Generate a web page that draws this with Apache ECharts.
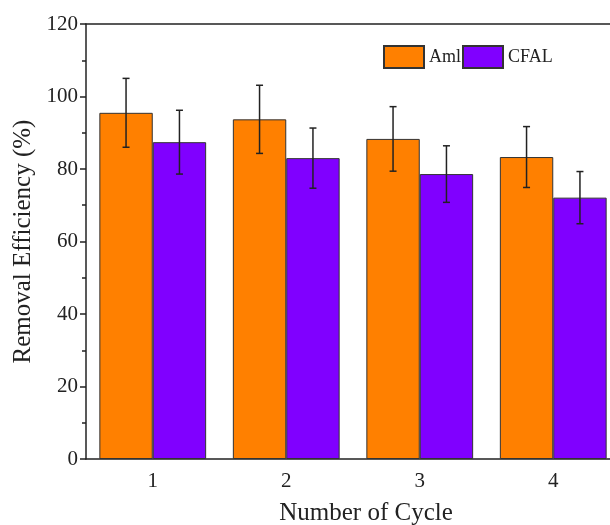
<!DOCTYPE html>
<html>
<head>
<meta charset="utf-8">
<script src="https://cdn.jsdelivr.net/npm/echarts@6/dist/echarts.min.js"></script>
<style>
  html, body { margin: 0; padding: 0; background: #fff; }
  #main { width: 610px; height: 525px; }
</style>
</head>
<body>
<div id="main"></div>
<script>
// cycles and removal efficiency (%)
var cycles = ['1', '2', '3', '4'];
var amlMean = [95.5, 93.7, 88.3, 83.3];
var amlErr = [9.5, 9.4, 8.9, 8.4];
var cfalMean = [87.4, 83.0, 78.6, 72.1];
var cfalErr = [8.8, 8.3, 7.8, 7.2];
var yTicks = [0, 20, 40, 60, 80, 100, 120];

var font = '"Liberation Serif", "Times New Roman", serif';
var chart = echarts.init(document.getElementById('main'));

function errData(mean, err) {
  var out = [];
  for (var i = 0; i < mean.length; i++) {
    out.push([i, mean[i] - err[i], mean[i] + err[i]]);
  }
  return out;
}

// draws error bar, shift is fraction of category width
function errRender(shift) {
  return function (params, api) {
    var x = api.value(0);
    var lo = api.coord([x, api.value(1)]);
    var hi = api.coord([x, api.value(2)]);
    var bw = api.size([1, 0])[0];
    var cx = lo[0] + bw * shift;
    var cap = 3.5;
    var st = { stroke: '#222', lineWidth: 1.5 };
    return {
      type: 'group',
      children: [
        { type: 'line', shape: { x1: cx, y1: lo[1], x2: cx, y2: hi[1] }, style: st },
        { type: 'line', shape: { x1: cx - cap, y1: lo[1], x2: cx + cap, y2: lo[1] }, style: st },
        { type: 'line', shape: { x1: cx - cap, y1: hi[1], x2: cx + cap, y2: hi[1] }, style: st }
      ]
    };
  };
}

var option = {
  animation: false,
  grid: { left: 86, width: 534, top: 24, bottom: 66, outerBoundsMode: 'none', containLabel: false },
  legend: {
    data: ['Aml', 'CFAL'],
    left: 378,
    top: 40,
    icon: 'rect',
    itemWidth: 40,
    itemHeight: 22,
    itemGap: 1,
    textStyle: { fontFamily: font, fontSize: 18, color: '#222' }
  },
  xAxis: [
    {
      type: 'category',
      data: cycles,
      name: 'Number of Cycle',
      nameLocation: 'middle',
      nameGap: 42,
      nameTextStyle: { fontFamily: font, fontSize: 25, color: '#222', padding: [0, 0, 0, 26] },
      axisLine: { lineStyle: { color: '#222', width: 1.5 } },
      axisTick: { alignWithLabel: true, length: 6, lineStyle: { color: '#222', width: 1.5 } },
      axisLabel: { fontFamily: font, fontSize: 21, color: '#222', margin: 12 }
    },
    {
      type: 'category',
      data: cycles,
      position: 'bottom',
      axisLine: { show: false },
      axisTick: { length: 4, lineStyle: { color: '#222', width: 1.5 } },
      axisLabel: { show: false }
    },
    {
      type: 'category',
      data: cycles,
      position: 'top',
      axisLine: { lineStyle: { color: '#222', width: 1.5 } },
      axisTick: { show: false },
      axisLabel: { show: false }
    }
  ],
  yAxis: {
    type: 'value',
    min: yTicks[0],
    max: yTicks[yTicks.length - 1],
    interval: 20,
    name: 'Removal Efficiency (%)',
    nameLocation: 'middle',
    nameGap: 44,
    nameTextStyle: { fontFamily: font, fontSize: 25, color: '#222' },
    splitLine: { show: false },
    axisLine: { show: true, lineStyle: { color: '#222', width: 1.5 } },
    axisTick: { show: true, length: 6, lineStyle: { color: '#222', width: 1.5 } },
    minorTick: { show: true, splitNumber: 2, length: 4, lineStyle: { color: '#222', width: 1.5 } },
    axisLabel: { fontFamily: font, fontSize: 21, color: '#222', margin: 8 }
  },
  series: [
    {
      name: 'Aml',
      type: 'bar',
      data: amlMean,
      barGap: '0%',
      barCategoryGap: '20%',
      itemStyle: { color: '#FF8000', borderColor: '#333', borderWidth: 1 }
    },
    {
      name: 'CFAL',
      type: 'bar',
      data: cfalMean,
      itemStyle: { color: '#8000FF', borderColor: '#333', borderWidth: 1 }
    },
    {
      type: 'custom',
      renderItem: errRender(-0.2),
      data: errData(amlMean, amlErr),
      z: 10
    },
    {
      type: 'custom',
      renderItem: errRender(0.2),
      data: errData(cfalMean, cfalErr),
      z: 10
    }
  ]
};
chart.setOption(option);
</script>
</body>
</html>
